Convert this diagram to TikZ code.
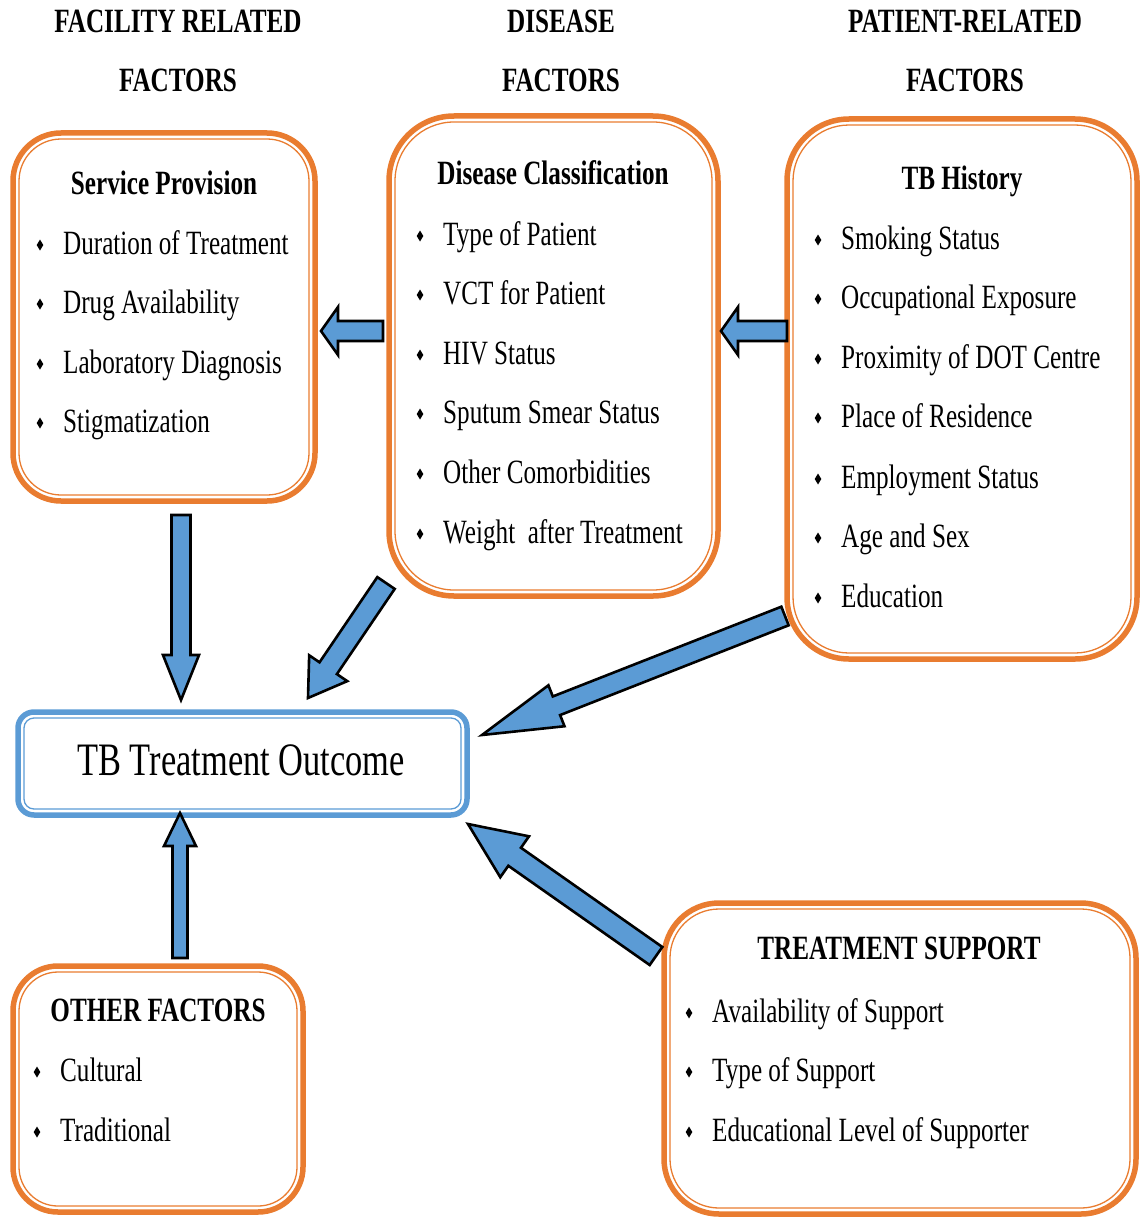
\documentclass[tikz,border=0pt]{standalone}
\usepackage{fontspec}
\setmainfont[FakeStretch=0.74]{Liberation Serif}
\usetikzlibrary{calc}
\definecolor{orng}{HTML}{E97C30}
\definecolor{bluf}{HTML}{5B9BD5}
\newcommand{\blkarrow}[5]{%
  \coordinate (hb) at ($(#2)!#5!(#1)$);
  \draw[barrow] ($(#1)!#3!90:(#2)$) -- ($(hb)!#3!90:(#2)$) -- ($(hb)!#4!90:(#2)$) -- (#2)
    -- ($(hb)!#4!-90:(#2)$) -- ($(hb)!#3!-90:(#2)$) -- ($(#1)!#3!-90:(#2)$) -- cycle;}
\newcommand{\bul}[2]{\fill (#1,#2) ++(0,-5.5) -- ++(3.3,5.5) -- ++(-3.3,5.5) -- ++(-3.3,-5.5) -- cycle;}
\tikzset{
  obox/.style={draw=orng, line width=5.5pt, inner sep=0pt, outer sep=0pt},
  ibox/.style={draw=orng, line width=1.3pt},
  bbox/.style={draw=bluf, line width=5.5pt, inner sep=0pt, outer sep=0pt},
  ibbox/.style={draw=bluf, line width=1.3pt},
  item/.style={anchor=base west, inner sep=0pt, font=\fontsize{34}{40}\selectfont},
  ttl/.style={anchor=base, inner sep=0pt, font=\fontsize{34}{40}\selectfont\bfseries},
  hdr/.style={anchor=base, inner sep=0pt, font=\fontsize{34}{40}\selectfont\bfseries},
  barrow/.style={draw=black, fill=bluf, line width=2.6pt, line join=miter}
}
\begin{document}
\begin{tikzpicture}[x=1pt, y=-1pt]
\useasboundingbox (0,0) rectangle (1142,1220);

% headers
\node[hdr] (h1a) at (178,33) {FACILITY RELATED};
\node[hdr] (h1b) at (178,92) {FACTORS};
\node[hdr] (h2a) at (561,33) {DISEASE};
\node[hdr] (h2b) at (561,92) {FACTORS};
\node[hdr] (h3a) at (965,33) {PATIENT-RELATED};
\node[hdr] (h3b) at (965,92) {FACTORS};

% Box 1: Service Provision
\node[obox, rounded corners=48pt, minimum width=302pt, minimum height=368pt] (b1) at (164,317) {};
\draw[ibox, rounded corners=42pt] ([shift={(6pt,6pt)}]b1.south west) rectangle ([shift={(-6pt,-6pt)}]b1.north east);
\node[ttl] (t1) at (164,194) {Service Provision};
\foreach \t/\yy [count=\i] in {Duration of Treatment/243, Drug Availability/302, Laboratory Diagnosis/362, Stigmatization/421}{
  \node[item] (sp\i) at (63,\yy+11) {\t};
  \bul{40}{\yy+2}
}

% Box 2: Disease Classification
\node[obox, rounded corners=65pt, minimum width=329pt, minimum height=480pt] (b2) at (553.5,356) {};
\draw[ibox, rounded corners=59pt] ([shift={(6pt,6pt)}]b2.south west) rectangle ([shift={(-6pt,-6pt)}]b2.north east);
\node[ttl] (t2) at (553,184) {Disease Classification};
\foreach \t/\yy [count=\i] in {Type of Patient/234, VCT for Patient/293, HIV Status/353, Sputum Smear Status/412, Other Comorbidities/472, Weight\ \ after Treatment/532}{
  \node[item] (dc\i) at (443,\yy+11) {\t};
  \bul{420}{\yy+2}
}

% Box 3: TB History
\node[obox, rounded corners=62pt, minimum width=350pt, minimum height=540pt] (b3) at (962,389) {};
\draw[ibox, rounded corners=56pt] ([shift={(6pt,6pt)}]b3.south west) rectangle ([shift={(-6pt,-6pt)}]b3.north east);
\node[ttl] (t3) at (962,189) {TB History};
\foreach \t/\yy [count=\i] in {Smoking Status/238, Occupational Exposure/297, Proximity of DOT Centre/357, Place of Residence/416, Employment Status/477, Age and Sex/536, Education/596}{
  \node[item] (th\i) at (841,\yy+11) {\t};
  \bul{818}{\yy+2}
}

% Outcome box
\node[bbox, rounded corners=16pt, minimum width=449pt, minimum height=103pt] (out) at (242.5,763.5) {};
\draw[ibbox, rounded corners=10pt] ([shift={(6pt,6pt)}]out.south west) rectangle ([shift={(-6pt,-6pt)}]out.north east);
\node[anchor=base, inner sep=0pt, font=\fontsize{46.5}{50}\selectfont] (outt) at (241,775) {TB Treatment Outcome};

% Other factors
\node[obox, rounded corners=45pt, minimum width=290pt, minimum height=246pt] (b4) at (158,1089) {};
\draw[ibox, rounded corners=39pt] ([shift={(6pt,6pt)}]b4.south west) rectangle ([shift={(-6pt,-6pt)}]b4.north east);
\node[ttl] (t4) at (158,1021) {OTHER FACTORS};
\foreach \t/\yy [count=\i] in {Cultural/1070, Traditional/1130}{
  \node[item] (of\i) at (60,\yy+11) {\t};
  \bul{37}{\yy+2}
}

% Treatment support
\node[obox, rounded corners=55pt, minimum width=472pt, minimum height=311pt] (b5) at (900,1058.5) {};
\draw[ibox, rounded corners=49pt] ([shift={(6pt,6pt)}]b5.south west) rectangle ([shift={(-6pt,-6pt)}]b5.north east);
\node[ttl] (t5) at (899,959) {TREATMENT SUPPORT};
\foreach \t/\yy [count=\i] in {Availability of Support/1011, Type of Support/1070, Educational Level of Supporter/1130}{
  \node[item] (ts\i) at (712,\yy+11) {\t};
  \bul{689}{\yy+2}
}

% arrows
\coordinate (a1s) at (383,331); \coordinate (a1e) at (321,331);
\coordinate (a2s) at (787,331); \coordinate (a2e) at (721,331);
\coordinate (a3s) at (181,515); \coordinate (a3e) at (181,700);
\coordinate (a4s) at (386,583); \coordinate (a4e) at (308,698);
\coordinate (a5s) at (785,616); \coordinate (a5e) at (482,735);
\coordinate (a6s) at (180,958); \coordinate (a6e) at (180,813);
\coordinate (a7s) at (656,956); \coordinate (a7e) at (468,824);
\blkarrow{a1s}{a1e}{10pt}{24pt}{17pt}
\blkarrow{a2s}{a2e}{10pt}{24pt}{17pt}
\blkarrow{a3s}{a3e}{9.5pt}{18pt}{45pt}
\blkarrow{a4s}{a4e}{10.5pt}{23pt}{36pt}
\blkarrow{a5s}{a5e}{10pt}{22pt}{80pt}
\blkarrow{a6s}{a6e}{7.5pt}{16pt}{33pt}
\blkarrow{a7s}{a7e}{11pt}{25pt}{57pt}
\end{tikzpicture}
\end{document}
